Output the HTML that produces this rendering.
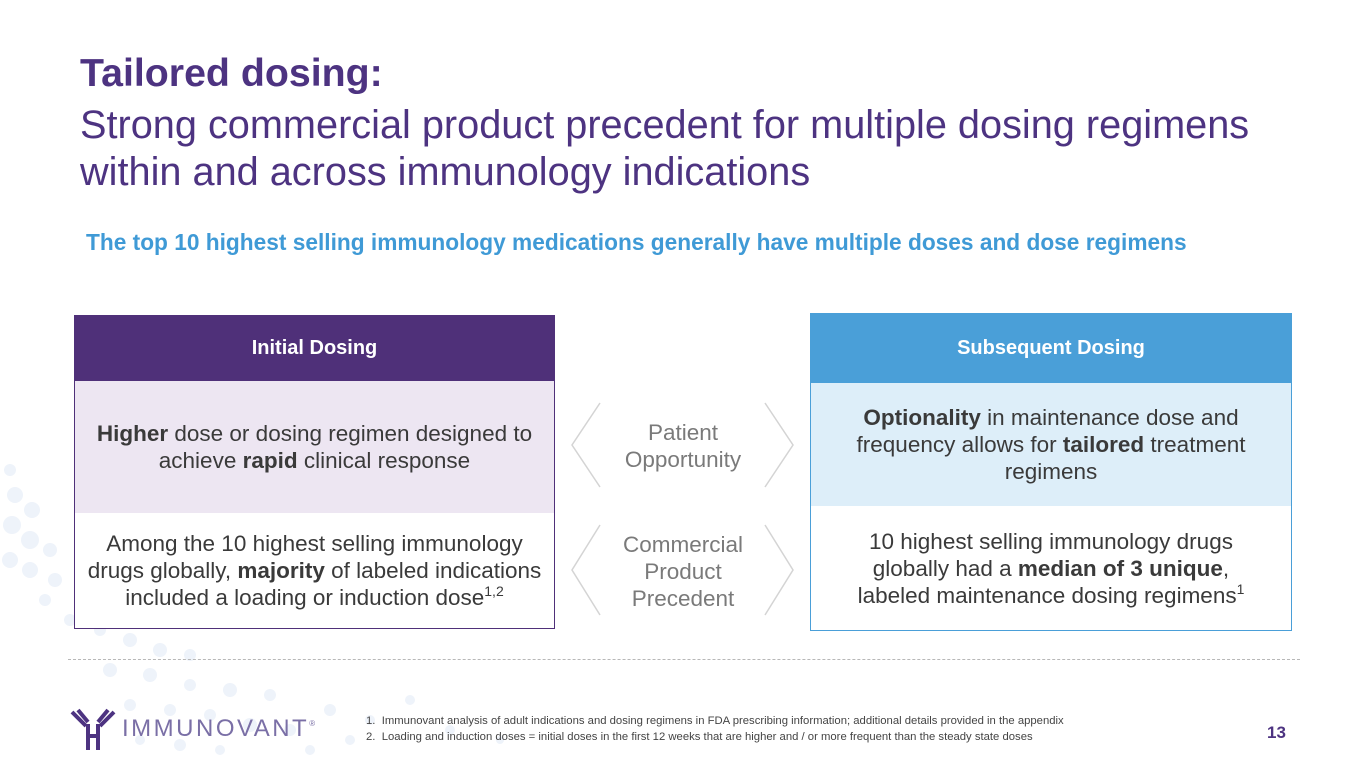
<!DOCTYPE html>
<html><head><meta charset="utf-8"><style>
*{margin:0;padding:0;box-sizing:border-box}
body{width:1365px;height:768px;position:relative;background:#fff;font-family:"Liberation Sans",Arial,sans-serif;overflow:hidden}
.a{position:absolute}
.t{color:#4d3381;font-size:39.7px;line-height:47px;left:80px;white-space:nowrap}
.box{position:absolute;text-align:center;color:#3a3a3a;font-size:22.5px;line-height:27px;display:flex;align-items:center;justify-content:center}
.mid{position:absolute;text-align:center;color:#7a7a7a;font-size:22.5px;line-height:27px;width:180px}
sup{font-size:14px;line-height:0;vertical-align:9px}
</style></head><body>
<svg class="a" style="left:0;top:440px" width="700" height="328">
<g fill="#eef3fa">
<circle cx="10" cy="30" r="6"/><circle cx="15" cy="55" r="8"/><circle cx="12" cy="85" r="9"/><circle cx="32" cy="70" r="8"/><circle cx="30" cy="100" r="9"/><circle cx="10" cy="120" r="8"/><circle cx="30" cy="130" r="8"/><circle cx="50" cy="110" r="7"/><circle cx="55" cy="140" r="7"/><circle cx="45" cy="160" r="6"/><circle cx="70" cy="180" r="6"/><circle cx="100" cy="190" r="6"/><circle cx="130" cy="200" r="7"/><circle cx="160" cy="210" r="7"/><circle cx="190" cy="215" r="6"/><circle cx="110" cy="230" r="7"/><circle cx="150" cy="235" r="7"/><circle cx="190" cy="245" r="6"/><circle cx="230" cy="250" r="7"/><circle cx="270" cy="255" r="6"/><circle cx="130" cy="265" r="6"/><circle cx="170" cy="270" r="6"/><circle cx="210" cy="275" r="6"/><circle cx="250" cy="285" r="7"/><circle cx="290" cy="290" r="6"/><circle cx="330" cy="270" r="6"/><circle cx="370" cy="280" r="5"/><circle cx="410" cy="260" r="5"/><circle cx="140" cy="300" r="5"/><circle cx="180" cy="305" r="6"/><circle cx="220" cy="310" r="5"/><circle cx="310" cy="310" r="5"/><circle cx="350" cy="300" r="5"/><circle cx="450" cy="290" r="5"/><circle cx="500" cy="300" r="4"/>
</g></svg>
<div class="a t" style="top:50px;font-weight:bold;font-size:39.3px">Tailored dosing:</div>
<div class="a t" style="top:102px">Strong commercial product precedent for multiple dosing regimens</div>
<div class="a t" style="top:149px">within and across immunology indications</div>
<div class="a" style="left:86px;top:229px;color:#3f9ad6;font-size:22.7px;font-weight:bold;white-space:nowrap">The top 10 highest selling immunology medications generally have multiple doses and dose regimens</div>

<div class="a" style="left:74px;top:315px;width:481px;height:314px;border:1.5px solid #4f3079;background:#fff"></div>
<div class="box" style="left:74px;top:315px;width:481px;height:66px;background:#4f3079;color:#fff;font-weight:bold;font-size:20px">Initial Dosing</div>
<div class="box" style="left:75px;top:381px;width:479px;height:132px;background:#ede6f2">
<div><b>Higher</b> dose or dosing regimen designed to<br>achieve <b>rapid</b> clinical response</div></div>
<div class="box" style="left:75px;top:513px;width:479px;height:115px">
<div>Among the 10 highest selling immunology<br>drugs globally, <b>majority</b> of labeled indications<br>included a loading or induction dose<sup>1,2</sup></div></div>

<div class="a" style="left:810px;top:313px;width:482px;height:318px;border:1.5px solid #4a9fd8;background:#fff"></div>
<div class="box" style="left:810px;top:313px;width:482px;height:70px;background:#4a9fd8;color:#fff;font-weight:bold;font-size:20px">Subsequent Dosing</div>
<div class="box" style="left:811px;top:383px;width:480px;height:123px;background:#ddeef9">
<div><b>Optionality</b> in maintenance dose and<br>frequency allows for <b>tailored</b> treatment<br>regimens</div></div>
<div class="box" style="left:811px;top:506px;width:480px;height:124px">
<div>10 highest selling immunology drugs<br>globally had a <b>median of 3 unique</b>,<br>labeled maintenance dosing regimens<sup>1</sup></div></div>

<svg class="a" style="left:560px;top:395px" width="250" height="230" fill="none" stroke="#d4d4d4" stroke-width="1.5">
<polyline points="40,8 12,50 40,92"/><polyline points="205,8 233,50 205,92"/>
<polyline points="40,130 12,175 40,220"/><polyline points="205,130 233,175 205,220"/>
</svg>
<div class="mid" style="left:593px;top:419px">Patient<br>Opportunity</div>
<div class="mid" style="left:593px;top:531px">Commercial<br>Product<br>Precedent</div>

<div class="a" style="left:68px;top:659px;width:1232px;border-top:1px dashed #b8b8b8"></div>

<svg class="a" style="left:68px;top:708px" width="50" height="44" fill="none" stroke="#4d3381" stroke-width="4">
<path d="M4,4 L18,18 M10,2 L20,14 M46,4 L32,18 M40,2 L30,14 M20,16 L20,42 M30,16 L30,42 M20,28 L30,28"/>
</svg>
<div class="a" style="left:122px;top:715px;font-size:24px;letter-spacing:2.5px;color:#7a6fa6">IMMUNOVANT<sup style="font-size:8px;letter-spacing:0;vertical-align:10px">®</sup></div>
<div class="a" style="left:366px;top:713px;font-size:11.3px;line-height:16px;color:#444;white-space:nowrap">1.&nbsp; Immunovant analysis of adult indications and dosing regimens in FDA prescribing information; additional details provided in the appendix<br>2.&nbsp; Loading and induction doses = initial doses in the first 12 weeks that are higher and / or more frequent than the steady state doses</div>
<div class="a" style="left:1267px;top:723px;font-size:17px;font-weight:bold;color:#4d3381">13</div>
</body></html>
